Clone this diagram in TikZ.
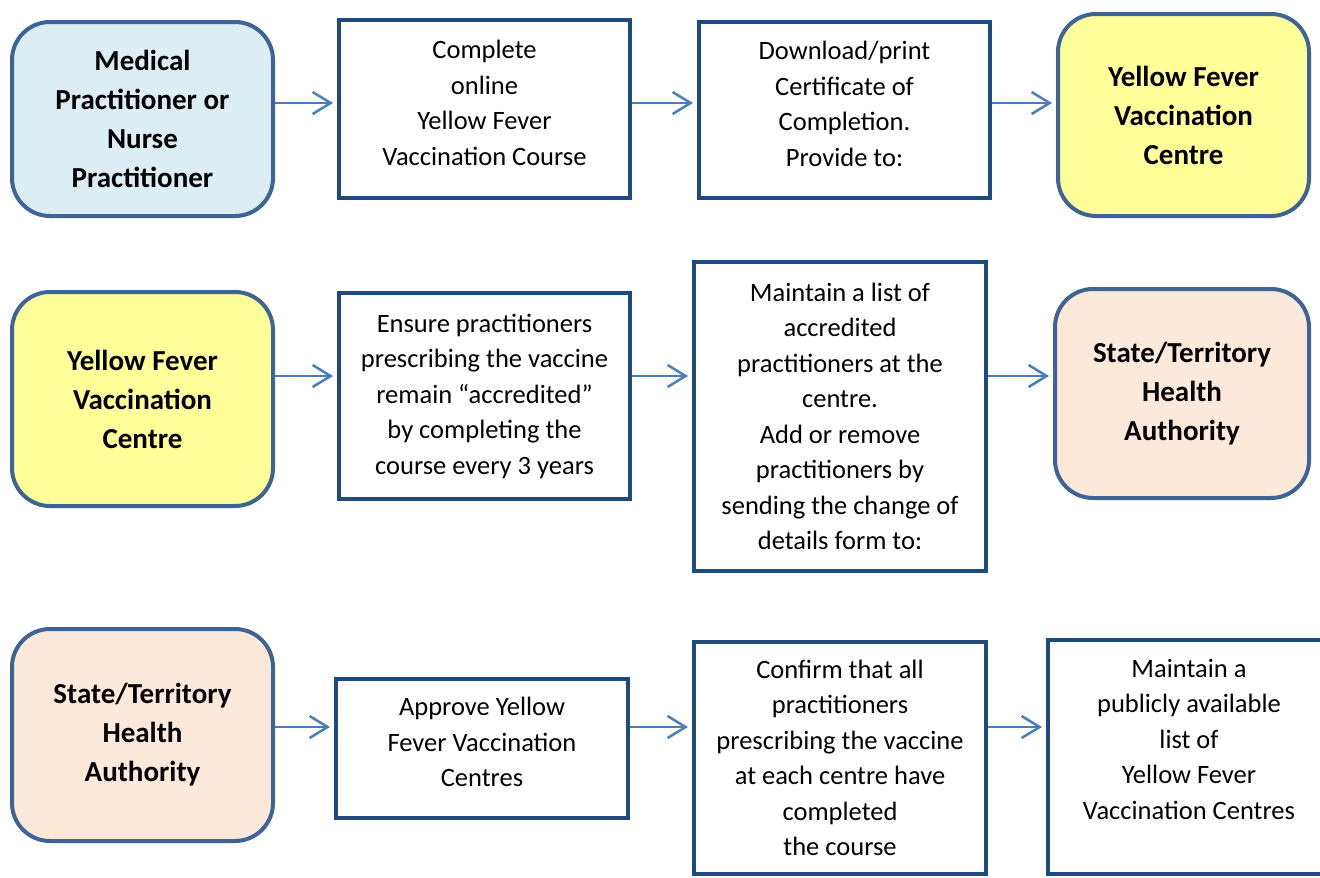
\documentclass[tikz,border=0pt]{standalone}
\usepackage{fontspec}
\setmainfont{Carlito}
\usetikzlibrary{arrows.meta}

\definecolor{boxblue}{HTML}{1F4A7E}
\definecolor{actorblue}{HTML}{3E6497}
\definecolor{arrowblue}{HTML}{4A7EBB}
\definecolor{medfill}{HTML}{DBEEF4}
\definecolor{centrefill}{HTML}{FFFF99}
\definecolor{authfill}{HTML}{FDE9D9}

\newcommand{\stepfont}{\fontsize{26.5}{35.5}\selectfont}
\newcommand{\actorfont}{\fontsize{29}{39}\selectfont\bfseries}

\tikzset{
  task/.style={draw=boxblue, line width=4pt, fill=white, align=center,
    font=\stepfont, inner sep=0pt},
  actor/.style={draw=actorblue, line width=4pt, rounded corners=38pt,
    align=center, font=\actorfont, inner sep=0pt},
  flow/.style={draw=arrowblue, line width=2.5pt, shorten >=4pt,
    -{Straight Barb[length=18pt,width=22pt]}}
}

\begin{document}
\begin{tikzpicture}[x=1pt,y=-1pt]
  \clip (0,0) rectangle (1320,878);
  \fill[white] (0,0) rectangle (1320,878);

  % row 1
  \node[actor, fill=medfill, minimum width=261, minimum height=194] (0) at (142.5,119)
    {Medical\\Practitioner or\\Nurse\\Practitioner};
  \node[task, minimum width=291, minimum height=178] (1) at (484.5,109)
    {Complete\\online\\Yellow Fever\\Vaccination Course\\[-23pt]};
  \node[task, minimum width=291, minimum height=176] (2) at (844.5,110)
    {Download/print\\Certificate of\\Completion.\\Provide to:\\[-23pt]};
  \node[actor, fill=centrefill, minimum width=251, minimum height=202] (3) at (1183.5,115)
    {Yellow Fever\\Vaccination\\Centre};

  % row 2
  \node[actor, fill=centrefill, minimum width=261, minimum height=214] (4) at (142.5,399)
    {Yellow Fever\\Vaccination\\Centre};
  \node[task, minimum width=291, minimum height=206] (5) at (484.5,396)
    {Ensure practitioners\\prescribing the vaccine\\remain “accredited”\\by completing the\\course every 3 years};
  \node[task, minimum width=292, minimum height=309] (6) at (840,416.5)
    {Maintain a list of\\accredited\\practitioners at the\\centre.\\Add or remove\\practitioners by\\sending the change of\\details form to:};
  \node[actor, fill=authfill, minimum width=254, minimum height=209] (7) at (1182,393.5)
    {State/Territory\\Health\\Authority};

  % row 3
  \node[actor, fill=authfill, minimum width=261, minimum height=212] (8) at (142.5,735)
    {State/Territory\\Health\\Authority};
  \node[task, minimum width=292, minimum height=139] (9) at (482,748.5)
    {Approve Yellow\\Fever Vaccination\\Centres\\[-23pt]};
  \node[task, minimum width=292, minimum height=232] (10) at (840,758)
    {Confirm that all\\practitioners\\prescribing the vaccine\\at each centre have\\completed\\the course};
  \node[task, minimum width=282, minimum height=234] (11) at (1189,757)
    {Maintain a\\publicly available\\list of\\Yellow Fever\\Vaccination Centres\\[0pt]};

  \coordinate (r1) at (0,103);
  \coordinate (r2) at (0,376);
  \coordinate (r3) at (0,727);

  \begin{scope}[flow]
    \draw (0.east |- r1) to (1.west |- r1);
    \draw (1.east |- r1) to (2.west |- r1);
    \draw (2.east |- r1) to (3.west |- r1);
    \draw (4.east |- r2) to (5.west |- r2);
    \draw (5.east |- r2) to (6.west |- r2);
    \draw (6.east |- r2) to (7.west |- r2);
    \draw (8.east |- r3) to (9.west |- r3);
    \draw (9.east |- r3) to (10.west |- r3);
    \draw (10.east |- r3) to (11.west |- r3);
  \end{scope}
\end{tikzpicture}
\end{document}
